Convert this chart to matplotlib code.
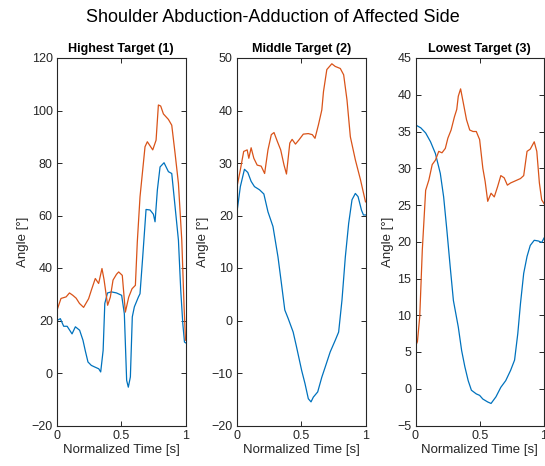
import numpy as np
import matplotlib
matplotlib.use("Agg")
import matplotlib.pyplot as plt

plt.rcParams["font.family"] = ["Liberation Sans", "DejaVu Sans"]

# Highest target (1)
t1_aff = [0, 0.031, 0.071, 0.097, 0.123, 0.149, 0.175, 0.207, 0.246, 0.267, 0.298, 0.324, 0.350, 0.366,
          0.394, 0.415, 0.436, 0.463, 0.480, 0.508, 0.532, 0.558, 0.584, 0.610, 0.625, 0.646, 0.685, 0.703,
          0.745, 0.771, 0.789, 0.807, 0.828, 0.867, 0.893, 0.919, 0.945, 0.971, 0.989, 1.0]
y1_aff = [23.9, 28.4, 29, 30.5, 29.6, 28.5, 26.5, 25.0, 28.3, 31.5, 36, 34.1, 39.8, 35.6,
          25.8, 28.9, 35.4, 37.6, 38.5, 37.2, 23.2, 28.9, 32.1, 33.4, 50.0, 67.1, 86.2, 88.1,
          85.0, 88.7, 102.1, 101.7, 98.7, 96.6, 94.4, 83.6, 72.2, 50.6, 25.2, 12.5]
t1_ref = [0, 0.026, 0.052, 0.079, 0.117, 0.143, 0.176, 0.202, 0.220, 0.241, 0.267, 0.293, 0.325, 0.340,
          0.359, 0.372, 0.393, 0.424, 0.463, 0.503, 0.524, 0.542, 0.555, 0.571, 0.586, 0.602, 0.634,
          0.646, 0.667, 0.693, 0.724, 0.750, 0.763, 0.781, 0.802, 0.833, 0.867, 0.893, 0.919,
          0.945, 0.963, 0.979, 0.992, 1.0]
y1_ref = [20.0, 20.7, 17.8, 17.8, 14.9, 17.6, 16.3, 12.5, 8.5, 4.2, 2.9, 2.3, 1.6, 0.4,
          8.6, 26.5, 30.5, 30.9, 30.5, 29.6, 22.6, -2.8, -5.4, -1.5, 21.4, 25.2, 29,
          30.2, 44.2, 62.3, 62.1, 60.5, 57.6, 69.7, 78.5, 80.1, 76.7, 76.0, 63.3,
          50.6, 31.5, 18.8, 11.8, 11.5]

# Middle target (2)
t2_aff = [0, 0.026, 0.052, 0.079, 0.092, 0.110, 0.131, 0.157, 0.188, 0.215, 0.241, 0.267, 0.288, 0.314,
          0.340, 0.366, 0.385, 0.411, 0.429, 0.455, 0.482, 0.516, 0.555, 0.586, 0.607, 0.634, 0.660,
          0.673, 0.699, 0.738, 0.764, 0.804, 0.830, 0.856, 0.882, 0.921, 0.961, 1.0]
y2_aff = [25.5, 28.7, 32.2, 32.5, 30.9, 32.9, 30.9, 29.6, 29.4, 28, 32.5, 35.4, 35.8, 34.1,
          32.5, 29.6, 27.9, 33.8, 34.5, 33.6, 34.4, 35.5, 35.6, 35.4, 34.7, 37.3, 40.1,
          43.6, 47.8, 48.9, 48.4, 48, 46.8, 42, 35, 30.6, 26.8, 22.6]
t2_ref = [0, 0.026, 0.058, 0.084, 0.110, 0.136, 0.175, 0.209, 0.241, 0.280, 0.319, 0.346, 0.372, 0.398,
          0.437, 0.463, 0.503, 0.529, 0.555, 0.576, 0.594, 0.628, 0.660, 0.686, 0.725, 0.764, 0.791,
          0.817, 0.843, 0.869, 0.895, 0.921, 0.942, 0.969, 0.984, 1.0]
y2_ref = [20.7, 25.5, 28.8, 28.2, 26.5, 25.5, 24.9, 24.1, 20.7, 17.9, 12.1, 7.0, 2.0, 0.4,
          -2.2, -5, -9.5, -12, -14.9, -15.5, -14.6, -13.6, -10.8, -8.9, -6, -3.8, -2.2,
          3.9, 12.1, 18.5, 23, 24.2, 23.6, 21, 20.1, 20.1]

# Lowest target (3)
t3_aff = [0, 0.015, 0.033, 0.053, 0.079, 0.104, 0.130, 0.155, 0.181, 0.206, 0.232, 0.252, 0.277, 0.303,
          0.321, 0.333, 0.351, 0.372, 0.397, 0.422, 0.448, 0.473, 0.499, 0.524, 0.542, 0.562, 0.588,
          0.613, 0.639, 0.664, 0.690, 0.715, 0.740, 0.766, 0.817, 0.842, 0.868, 0.893, 0.924, 0.944,
          0.964, 0.982, 1.0]
y3_aff = [5.8, 6.4, 9.8, 18.9, 27.0, 28.4, 30.5, 31.1, 32.3, 32.1, 32.7, 34.1, 35.2, 37.0,
          38, 39.8, 40.8, 38.9, 36.6, 35.2, 35, 35, 33.9, 30, 28.2, 25.5, 26.6,
          26.1, 27.5, 29, 28.7, 27.7, 28, 28.2, 28.6, 29, 32.3, 32.6, 33.6, 32.3,
          28, 25.7, 25.2]
t3_ref = [0, 0.041, 0.079, 0.117, 0.155, 0.193, 0.219, 0.244, 0.270, 0.295, 0.333, 0.359, 0.384, 0.410,
          0.435, 0.473, 0.499, 0.524, 0.562, 0.588, 0.626, 0.664, 0.702, 0.740, 0.771, 0.796, 0.817,
          0.842, 0.868, 0.893, 0.924, 0.957, 0.982, 1.0]
y3_ref = [35.9, 35.5, 34.8, 33.6, 32, 29.3, 26.1, 21.6, 16.6, 12.0, 8.4, 5.2, 3, 1.1,
          -0.2, -0.7, -0.9, -1.4, -1.8, -2, -1.1, 0.2, 1.1, 2.5, 3.9, 7.5, 11.6,
          15.7, 18, 19.5, 20.2, 20.1, 19.9, 20.5]

titles = ["Highest Target (1)", "Middle Target (2)", "Lowest Target (3)"]
ylims = [(-20, 120), (-20, 50), (-5, 45)]
ysteps = [20, 10, 5]
blue = "#0072BD"
orange = "#D95319"
txt = "#262626"

panels = [(t1_ref, y1_ref, t1_aff, y1_aff),
          (t2_ref, y2_ref, t2_aff, y2_aff),
          (t3_ref, y3_ref, t3_aff, y3_aff)]
lefts = [57, 237, 415.5]

fig = plt.figure(figsize=(5.45, 4.66), dpi=100)
for i in range(3):
    ax = fig.add_axes([lefts[i] / 545, 40.5 / 466, 128.5 / 545, 367.5 / 466])
    tb, yb, ta, ya = panels[i]
    ax.plot(tb, yb, color=blue, lw=0.9)
    ax.plot(ta, ya, color=orange, lw=0.9)
    ax.set_xlim(0, 1)
    ax.set_ylim(*ylims[i])
    ax.set_xticks([0, 0.5, 1])
    ax.set_xticklabels(["0", "0.5", "1"])
    ax.set_yticks(np.arange(ylims[i][0], ylims[i][1] + 0.1, ysteps[i]))
    ax.tick_params(direction="in", top=True, right=True, length=3.5, width=0.7,
                   labelsize=9, colors=txt, pad=3)
    for s in ax.spines.values():
        s.set_color(txt)
        s.set_linewidth(0.8)
    ax.set_title(titles[i], fontsize=9, fontweight="bold", color="black", pad=4)
    ax.set_xlabel("Normalized Time [s]", fontsize=9.5, color=txt, labelpad=2)
    ax.set_ylabel("Angle [°]", fontsize=9.5, color=txt, labelpad=2)

fig.text(0.5, 1 - 18 / 466, "Shoulder Abduction-Adduction of Affected Side",
         ha="center", va="center", fontsize=13, color="black")

fig.savefig("out.png", dpi=100)
